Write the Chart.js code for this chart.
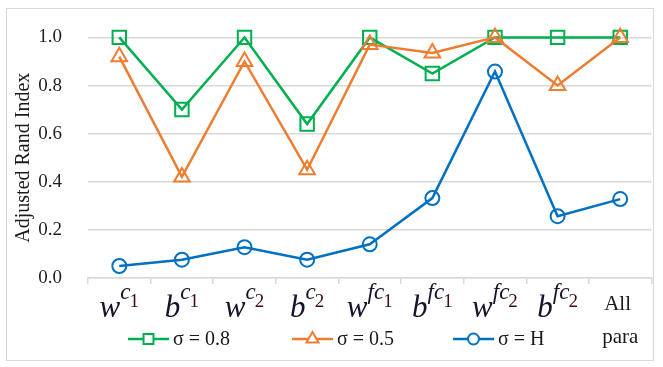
<!DOCTYPE html>
<html>
<head>
<meta charset="utf-8">
<script src="https://cdn.jsdelivr.net/npm/chart.js@4.4.1/dist/chart.umd.min.js"></script>
<style>
    html, body { margin: 0; padding: 0; background: #fff; }
    #chart { display: block; }
</style>
</head>
<body>
<canvas id="chart" width="663" height="367"></canvas>
<script>
// category labels: base letter, superscript, subscript
const labelBase = ['w', 'b', 'w', 'b', 'w', 'b', 'w', 'b', 'All'];
const labelSup = ['c', 'c', 'c', 'c', 'fc', 'fc', 'fc', 'fc', ''];
const labelSub = ['1', '1', '2', '2', '1', '1', '2', '2', 'para'];
const categories = ['w^c1', 'b^c1', 'w^c2', 'b^c2', 'w^fc1', 'b^fc1', 'w^fc2', 'b^fc2', 'All para'];

const sigma08 = [1.0, 0.70, 1.0, 0.64, 1.0, 0.85, 1.0, 1.0, 1.0];
const sigma05 = [0.92, 0.42, 0.90, 0.45, 0.97, 0.935, 1.0, 0.80, 1.0];
const sigmaH = [0.05, 0.076, 0.128, 0.076, 0.14, 0.332, 0.858, 0.257, 0.328];

const seriesNames = ['σ = 0.8', 'σ = 0.5', 'σ = H'];
const yTicks = [0, 0.2, 0.4, 0.6, 0.8, 1.0];
const yTitle = 'Adjusted Rand Index';

const GREEN = '#00b050';
const ORANGE = '#ed7d31';
const BLUE = '#0070c0';
const GRID = '#d9d9d9';
const SERIF = '"Liberation Serif", "Times New Roman", serif';

// light frame round the whole picture
const framePlugin = {
    id: 'frame',
    beforeDraw(chart) {
        const ctx = chart.ctx;
        ctx.save();
        ctx.strokeStyle = '#d9d9d9';
        ctx.lineWidth = 1;
        ctx.strokeRect(6.5, 8.5, 647, 352);
        ctx.restore();
    }
};

// x labels with super- and subscripts
const xLabelPlugin = {
    id: 'xLabels',
    afterDraw(chart) {
        const ctx = chart.ctx;
        const xs = chart.scales.x;
        ctx.save();
        ctx.textBaseline = 'alphabetic';
        ctx.textAlign = 'left';
        for (let i = 0; i < categories.length; i++) {
            const cx = xs.getPixelForTick(i);
            if (labelSup[i] === '') {
                ctx.font = '21px ' + SERIF;
                ctx.fillStyle = '#1a1a1a';
                ctx.fillText(labelBase[i], cx - 16, 310);
                ctx.fillText(labelSub[i], cx - 18, 343);
                continue;
            }
            const fBase = 'italic 31px ' + SERIF;
            const fSup = 'italic 23px ' + SERIF;
            const fSub = '19px ' + SERIF;
            ctx.font = fBase;
            const wb = ctx.measureText(labelBase[i]).width;
            ctx.font = fSup;
            const ws = ctx.measureText(labelSup[i]).width;
            ctx.font = fSub;
            const wsub = ctx.measureText(labelSub[i]).width;
            const total = wb + ws + wsub - 1;
            let x = cx - total / 2;
            ctx.fillStyle = '#14142a';
            ctx.font = fBase;
            ctx.fillText(labelBase[i], x, 317);
            x += wb;
            ctx.font = fSup;
            ctx.fillText(labelSup[i], x, 299);
            x += ws - 1;
            ctx.fillStyle = '#3c0e0e';
            ctx.font = fSub;
            ctx.fillText(labelSub[i], x, 307);
        }
        ctx.restore();
    }
};

// legend: short line with marker, then text
const legendPlugin = {
    id: 'lineLegend',
    afterDraw(chart) {
        const ctx = chart.ctx;
        const starts = [128, 292, 453];
        const y = 339;
        ctx.save();
        chart.data.datasets.forEach(function(ds, i) {
            const x0 = starts[i];
            ctx.strokeStyle = ds.borderColor;
            ctx.lineWidth = 2.5;
            ctx.beginPath();
            ctx.moveTo(x0, y);
            ctx.lineTo(x0 + 41, y);
            ctx.stroke();
            ctx.fillStyle = '#ffffff';
            ctx.lineWidth = 2;
            Chart.helpers.drawPoint(ctx, {
                pointStyle: ds.pointStyle,
                radius: ds.pointStyle === 'circle' ? 5.5 : 7,
                borderWidth: 2,
                rotation: 0
            }, x0 + 20.5, y);
            ctx.fillStyle = '#1a1a1a';
            ctx.font = '20px ' + SERIF;
            ctx.textBaseline = 'middle';
            ctx.textAlign = 'left';
            ctx.fillText(seriesNames[i], x0 + 45, y + 1);
        });
        ctx.restore();
    }
};

const ctx = document.getElementById('chart').getContext('2d');
const myChart = new Chart(ctx, {
    type: 'line',
    data: {
        labels: categories,
        datasets: [
            {label: seriesNames[0], data: sigma08, borderColor: GREEN, pointBorderColor: GREEN,
             pointStyle: 'rect', pointRadius: 9.5, order: 2},
            {label: seriesNames[1], data: sigma05, borderColor: ORANGE, pointBorderColor: ORANGE,
             pointStyle: 'triangle', pointRadius: 9, order: 1},
            {label: seriesNames[2], data: sigmaH, borderColor: BLUE, pointBorderColor: BLUE,
             pointStyle: 'circle', pointRadius: 7, order: 0}
        ].map(function(d) {
            return Object.assign({
                borderWidth: 2.5,
                pointBorderWidth: 2,
                pointBackgroundColor: 'rgba(0,0,0,0)',
                pointHoverRadius: d.pointRadius,
                tension: 0,
                clip: false
            }, d);
        })
    },
    options: {
        responsive: false,
        animation: false,
        layout: {padding: {left: 6, right: 10, top: 20, bottom: 0}},
        plugins: {
            legend: {display: false},
            tooltip: {enabled: false}
        },
        scales: {
            x: {
                offset: true,
                grid: {offset: true, drawOnChartArea: false, color: GRID, lineWidth: 1.5, tickLength: 6},
                border: {color: GRID, width: 1.5},
                ticks: {display: false},
                afterFit: function(scale) { scale.height = 89; }
            },
            y: {
                min: 0,
                max: 1,
                afterBuildTicks: function(scale) {
                    scale.ticks = yTicks.map(function(v) { return {value: v}; });
                },
                grid: {color: GRID, lineWidth: 1.5, drawTicks: false},
                border: {display: false},
                ticks: {
                    padding: 26,
                    color: '#1f1f1f',
                    font: {family: SERIF, size: 19},
                    callback: function(v) { return v.toFixed(1); }
                },
                title: {
                    display: true,
                    text: yTitle,
                    color: '#1a1a1a',
                    font: {family: SERIF, size: 20},
                    padding: {top: 6, bottom: 0}
                },
                afterFit: function(scale) { scale.width = 82; }
            }
        }
    },
    plugins: [framePlugin, xLabelPlugin, legendPlugin]
});
</script>
</body>
</html>
